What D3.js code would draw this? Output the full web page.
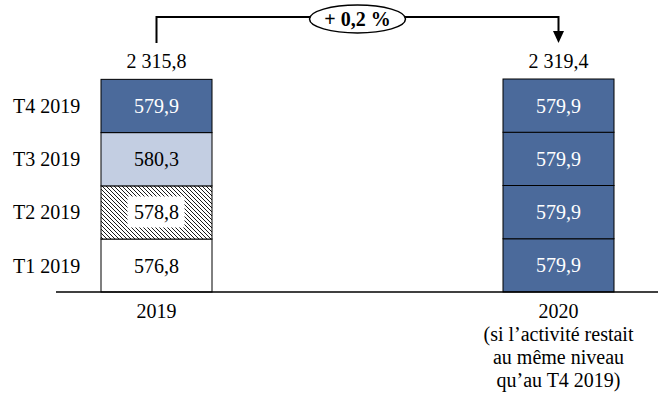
<!DOCTYPE html>
<html><head><meta charset="utf-8">
<script src="https://cdn.jsdelivr.net/npm/d3@7"></script>
<style>html,body{margin:0;padding:0;background:#fff;}svg{display:block;font-family:"Liberation Serif","Times New Roman",serif;}</style>
</head><body><svg id="c" width="672" height="411"></svg>
<script>
const quarters = ["T1 2019","T2 2019","T3 2019","T4 2019"];
const years = ["2019","2020"];
const values2019 = [576.8, 578.8, 580.3, 579.9];
const values2020 = [579.9, 579.9, 579.9, 579.9];
const totals = ["2 315,8","2 319,4"];
const growthLabel = "+ 0,2 %";
const xLabels = [["2019"],["2020","(si l\u2019activité restait","au même niveau","qu\u2019au T4 2019)"]];

const fmt = v => d3.format(".1f")(v).replace(".", ",");
const svg = d3.select("#c");
const defs = svg.append("defs");
const pat = defs.append("pattern").attr("id","hatch").attr("patternUnits","userSpaceOnUse").attr("width",4).attr("height",4);
pat.append("rect").attr("width",4).attr("height",4).attr("fill","#fff");
pat.append("path").attr("d","M0,0L4,4M-1,3L1,5M3,-1L5,1").attr("stroke","#000").attr("stroke-width",0.9);

const x = d3.scalePoint().domain(years).range([156.5, 558.5]);
const bw = 111;
const y = d3.scaleLinear().domain([0, d3.sum(values2020)]).range([292, 79]);

const fills2019 = ["#ffffff","url(#hatch)","#C3CEE2","#4B6A9B"];
const textCol2019 = ["#000","#000","#000","#fff"];
const series = [
  {year:"2019", vals:values2019, fills:fills2019, tc:textCol2019},
  {year:"2020", vals:values2020, fills:values2020.map(()=>"#4B6A9B"), tc:values2020.map(()=>"#fff")}
];

series.forEach((s, si) => {
  let cum = 0;
  const segs = s.vals.map((v,i)=>{ const o={y0:cum,y1:cum+v,v,i}; cum+=v; return o; });
  const g = svg.append("g");
  g.selectAll("rect").data(segs).join("rect")
    .attr("x", x(s.year)-bw/2).attr("width", bw)
    .attr("y", d=>y(d.y1)).attr("height", d=>y(d.y0)-y(d.y1))
    .attr("fill", d=>s.fills[d.i]).attr("stroke","#000").attr("stroke-width",1);
  segs.forEach(d=>{
    const cy = (y(d.y0)+y(d.y1))/2;
    if (s.fills[d.i].startsWith("url")) {
      g.append("rect").attr("x", x(s.year)-29).attr("y", cy-16).attr("width",57).attr("height",31).attr("fill","#fff");
    }
    g.append("text").attr("x", x(s.year)).attr("y", cy).attr("dy","0.35em")
      .attr("text-anchor","middle").attr("font-size",20).attr("fill", s.tc[d.i]).text(fmt(d.v));
  });
  svg.append("text").attr("x", x(s.year)).attr("y", y(cum)-11)
    .attr("text-anchor","middle").attr("font-size",20).text(totals[si]);
  xLabels[si].forEach((t,k)=>{
    svg.append("text").attr("x", x(s.year)).attr("y", 318+k*23)
      .attr("text-anchor","middle").attr("font-size",20).text(t);
  });
});

// category labels
let c = 0;
values2019.forEach((v,i)=>{
  const cy = (y(c)+y(c+v))/2; c+=v;
  svg.append("text").attr("x",13).attr("y",cy).attr("dy","0.35em").attr("font-size",20).text(quarters[i]);
});

// axis baseline
svg.append("line").attr("x1",56).attr("x2",658).attr("y1",y(0)).attr("y2",y(0)).attr("stroke","#000").attr("stroke-width",1.5);

// bracket
const by = 17, bottom = 43;
svg.append("path").attr("d",`M${x("2019")},${bottom}V${by}H${x("2020")}V${bottom-11}`)
  .attr("fill","none").attr("stroke","#000").attr("stroke-width",2);
svg.append("path").attr("d",`M${x("2020")-5.5},${bottom-12}L${x("2020")+5.5},${bottom-12}L${x("2020")},${bottom}Z`).attr("fill","#000");
const mx = (x("2019")+x("2020"))/2;
svg.append("ellipse").attr("cx",mx).attr("cy",19).attr("rx",48).attr("ry",14).attr("fill","#fff").attr("stroke","#000").attr("stroke-width",1.5);
svg.append("text").attr("x",mx).attr("y",19).attr("dy","0.35em").attr("text-anchor","middle").attr("font-size",20).attr("font-weight","bold").text(growthLabel);
</script></body></html>
